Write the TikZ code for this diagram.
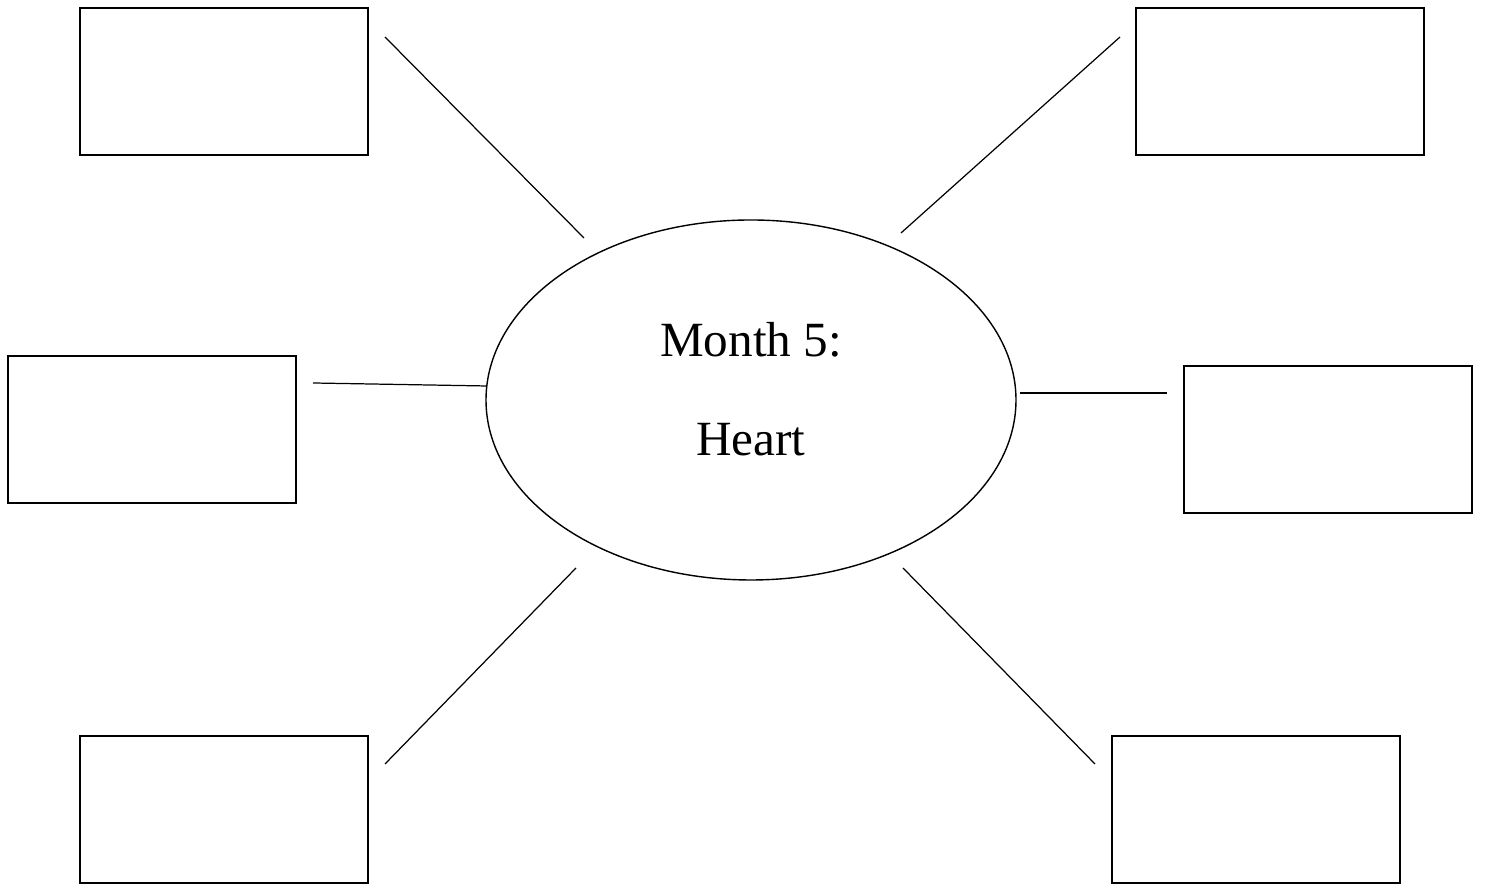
\documentclass[tikz,border=0pt]{standalone}
\usepackage{fontspec}
\setmainfont{Liberation Serif}
\usetikzlibrary{shapes.geometric, positioning, calc}

\begin{document}
\begin{tikzpicture}[
    % Styles
    emptybox/.style={
        rectangle,
        draw=black,
        line width=0.9pt,
        minimum width=5.76cm,
        minimum height=2.94cm,
        inner sep=0pt
    },
    hub/.style={
        ellipse,
        draw=black,
        line width=0.8pt,
        minimum width=10.6cm,
        minimum height=7.2cm,
        text depth=0.44cm,
        align=center,
        font=\fontsize{28}{56}\selectfont
    },
    spoke/.style={
        line width=0.7pt,
        color=black
    }
]
\useasboundingbox (0,0) rectangle (29.72,17.76);

% --- Centre ---
\node (heart) [hub] at (15.02,9.76) {Month 5:\\Heart};

% --- Boxes ---
\node (box_tl) [emptybox] at (4.48,16.13) {};
\node (box_tr) [emptybox] at (25.60,16.13) {};
\node (box_ml) [emptybox] at (3.04,9.17) {};
\node (box_mr) [emptybox] at (26.56,8.97) {};
\node (box_bl) [emptybox] at (4.48,1.57) {};
\node (box_br) [emptybox] at (25.12,1.57) {};

% --- Spoke ends ---
\coordinate (tl_out) at (7.70,17.02);
\coordinate (tl_in) at (11.68,13.00);
\coordinate (tr_out) at (22.40,17.02);
\coordinate (tr_in) at (18.02,13.10);
\coordinate (ml_out) at (6.26,10.10);
\coordinate (ml_in) at (9.74,10.04);
\coordinate (mr_in) at (20.40,9.90);
\coordinate (mr_out) at (23.34,9.90);
\coordinate (bl_in) at (11.52,6.40);
\coordinate (bl_out) at (7.70,2.48);
\coordinate (br_in) at (18.06,6.40);
\coordinate (br_out) at (21.90,2.48);

% --- Connections ---
\draw [spoke] (tl_out) -- (tl_in);
\draw [spoke] (tr_out) -- (tr_in);
\draw [spoke] (ml_out) -- (ml_in);
\draw [spoke] (mr_in) -- (mr_out);
\draw [spoke] (bl_in) -- (bl_out);
\draw [spoke] (br_in) -- (br_out);

\end{tikzpicture}
\end{document}
